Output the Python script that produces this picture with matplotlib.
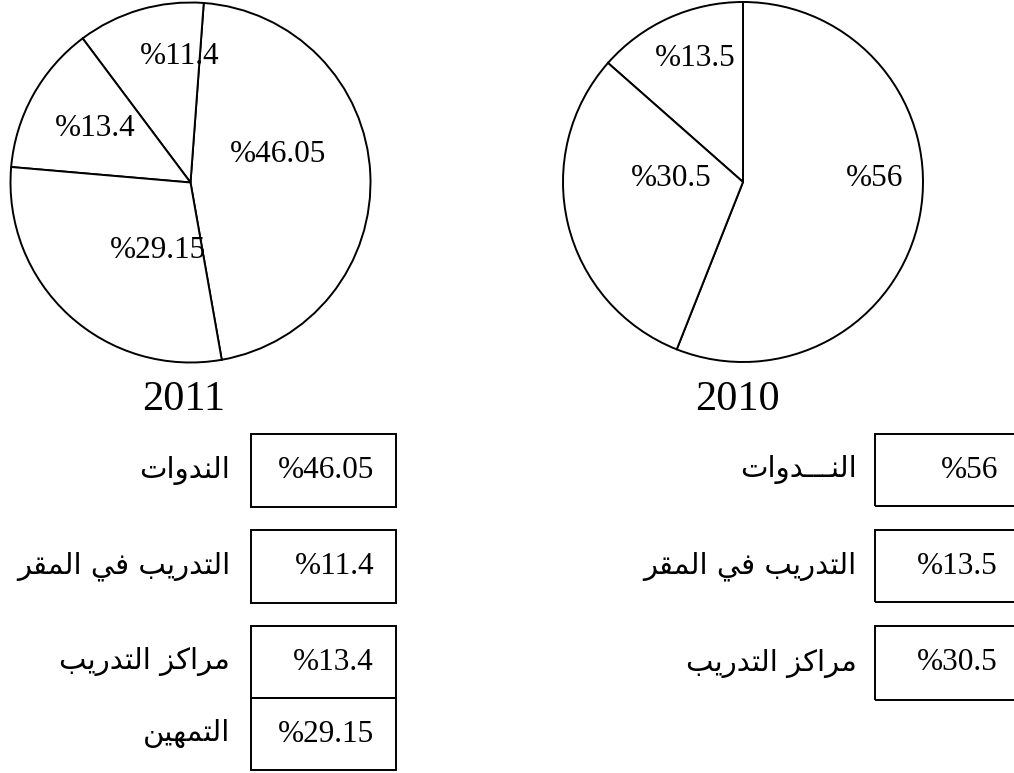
import matplotlib
matplotlib.use("Agg")
import matplotlib.pyplot as plt
from matplotlib.patches import Rectangle

# data
years = ["2011", "2010"]
labels_2011 = ["الندوات", "التدريب في المقر", "مراكز التدريب", "التمهين"]
values_2011 = [46.05, 11.4, 13.4, 29.15]
labels_2010 = ["النـــدوات", "التدريب في المقر", "مراكز التدريب"]
values_2010 = [56, 13.5, 30.5]

H = 773

# matplotlib does no arabic shaping, so pick the presentation forms by hand
FORMS = {
    'ا': ('\uFE8D', '\uFE8E', None, None),
    'ب': ('\uFE8F', '\uFE90', '\uFE91', '\uFE92'),
    'ت': ('\uFE95', '\uFE96', '\uFE97', '\uFE98'),
    'د': ('\uFEA9', '\uFEAA', None, None),
    'ر': ('\uFEAD', '\uFEAE', None, None),
    'ز': ('\uFEAF', '\uFEB0', None, None),
    'ف': ('\uFED1', '\uFED2', '\uFED3', '\uFED4'),
    'ق': ('\uFED5', '\uFED6', '\uFED7', '\uFED8'),
    'ك': ('\uFED9', '\uFEDA', '\uFEDB', '\uFEDC'),
    'ل': ('\uFEDD', '\uFEDE', '\uFEDF', '\uFEE0'),
    'م': ('\uFEE1', '\uFEE2', '\uFEE3', '\uFEE4'),
    'ن': ('\uFEE5', '\uFEE6', '\uFEE7', '\uFEE8'),
    'ه': ('\uFEE9', '\uFEEA', '\uFEEB', '\uFEEC'),
    'و': ('\uFEED', '\uFEEE', None, None),
    'ي': ('\uFEF1', '\uFEF2', '\uFEF3', '\uFEF4'),
    'ـ': ('ـ', 'ـ', 'ـ', 'ـ'),
}


def shape(text):
    out = []
    n = len(text)
    for i, ch in enumerate(text):
        if ch not in FORMS:
            out.append(ch)
            continue
        prev = text[i - 1] if i > 0 else None
        nxt = text[i + 1] if i < n - 1 else None
        join_prev = prev in FORMS and FORMS[prev][2] is not None
        join_next = FORMS[ch][2] is not None and nxt in FORMS
        iso, fin, ini, med = FORMS[ch]
        if join_prev and join_next:
            out.append(med)
        elif join_prev:
            out.append(fin)
        elif join_next:
            out.append(ini)
        else:
            out.append(iso)
    return "".join(out[::-1])


def pct(v):
    return "%" + f"{v:g}"


fig = plt.figure(figsize=(10.14, 7.73), dpi=100)
ax = fig.add_axes([0, 0, 1, 1])

serif = ["Liberation Serif", "DejaVu Serif"]
arab = ["DejaVu Sans"]
wp = dict(facecolor="white", edgecolor="black", linewidth=1.4)

# pies
ax.pie(values_2011, startangle=-80, center=(190.5, H - 182.5), radius=180,
       wedgeprops=wp)
ax.pie(values_2010, startangle=-111.6, center=(743, H - 182), radius=180,
       wedgeprops=wp)

# labels inside the slices (pixel positions)
pos_2011 = [(278, 154), (180, 57), (95, 129), (158, 250)]
pos_2010 = [(875, 178), (695, 59), (671, 178)]
for v, (x, y) in zip(values_2011, pos_2011):
    ax.text(x, H - y, pct(v), ha="center", va="center", fontsize=22.5, family=serif)
for v, (x, y) in zip(values_2010, pos_2010):
    ax.text(x, H - y, pct(v), ha="center", va="center", fontsize=22.5, family=serif)

# year titles
ax.text(184, H - 400, years[0], ha="center", va="center", fontsize=30.5, family=serif)
ax.text(737, H - 400, years[1], ha="center", va="center", fontsize=30.5, family=serif)

# boxed tables
rows_2011 = [(434, 507), (530, 603), (626, 698), (698, 770)]
for (y0, y1), v, lab in zip(rows_2011, values_2011, labels_2011):
    ax.add_patch(Rectangle((251, H - y1), 145, y1 - y0, fill=False,
                           edgecolor="black", linewidth=1.4))
    yc = H - (y0 + y1) / 2
    ax.text(374, yc, pct(v), ha="right", va="center", fontsize=22.5, family=serif)
    ax.text(230, yc, shape(lab), ha="right", va="center", fontsize=21, family=arab)

rows_2010 = [(434, 506), (530, 602), (626, 700)]
for (y0, y1), v, lab in zip(rows_2010, values_2010, labels_2010):
    ax.add_patch(Rectangle((875, H - y1), 160, y1 - y0, fill=False,
                           edgecolor="black", linewidth=1.4, clip_on=True))
    yc = H - (y0 + y1) / 2
    ax.text(998, yc, pct(v), ha="right", va="center", fontsize=22.5, family=serif)
    ax.text(857, yc, shape(lab), ha="right", va="center", fontsize=21, family=arab)

ax.set_xlim(0, 1014)
ax.set_ylim(0, H)
ax.set_aspect("equal")
ax.axis("off")

fig.savefig("out.png", dpi=100, facecolor="white")
